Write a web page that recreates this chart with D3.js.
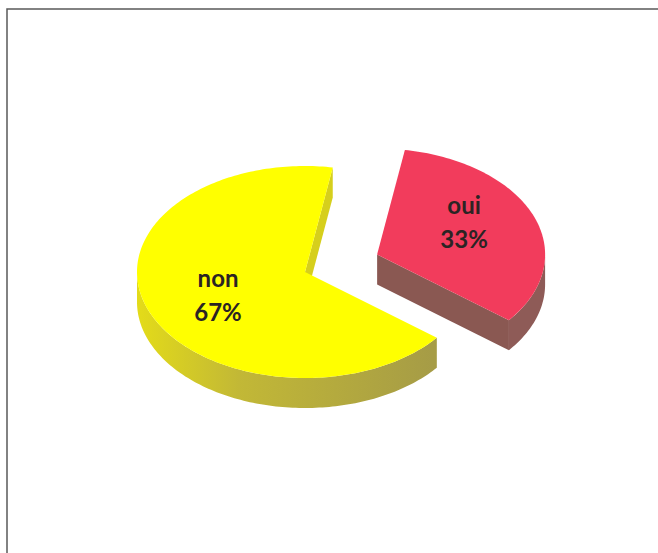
<!DOCTYPE html>
<html>
<head>
<meta charset="utf-8">
<script src="https://cdn.jsdelivr.net/npm/d3@7"></script>
<style>
  body { margin: 0; background: #fff; }
  svg { display: block; }
</style>
</head>
<body>
<svg id="chart" width="658" height="553"></svg>
<script>
// data
const categories = ['oui', 'non']
const values = [33, 67]
const explode = [0.46, 0]

const topColors = ['#f23c5c', '#ffff00']
const sideColors = ['#8e5b57', 'url(#yellowSide)']
const cutColors = ['#8a5852', '#d6cf1c']

const W = 658
const H = 553
const cx = 305
const cy = 272
const rx = 168
const ry = 106
const depth = 30

const svg = d3.select('#chart')

// frame (scanned page border)
svg.append('path')
  .attr('d', `M7,${H} L7,9 L${W},9`)
  .attr('fill', 'none')
  .attr('stroke', '#5a5a5a')
  .attr('stroke-width', 1.5)

const defs = svg.append('defs')
const grad = defs.append('linearGradient')
  .attr('id', 'yellowSide')
  .attr('gradientUnits', 'userSpaceOnUse')
  .attr('x1', 135).attr('y1', 0).attr('x2', 432).attr('y2', 0)
grad.append('stop').attr('offset', '0%').attr('stop-color', '#e4dc18')
grad.append('stop').attr('offset', '35%').attr('stop-color', '#c2b836')
grad.append('stop').attr('offset', '100%').attr('stop-color', '#a69c46')

const total = d3.sum(values)
const pct = d3.format('.0%')

const start = 0.166
const pie = d3.pie()
  .sort(null)
  .value((d) => d.value)
  .startAngle(start)
  .endAngle(start + 2 * Math.PI)

const slices = pie(categories.map((c, i) => ({ name: c, value: values[i], i })))
  .map((s) => {
    const mid = (s.startAngle + s.endAngle) / 2
    const e = explode[s.data.i]
    s.dx = e * rx * Math.sin(mid)
    s.dy = -e * ry * Math.cos(mid)
    s.mid = mid
    return s
  })

const pt = (s, a, z = 0) => [cx + s.dx + rx * Math.sin(a), cy + s.dy - ry * Math.cos(a) + z]
const arcPts = (s, a0, a1, z = 0) => {
  const n = Math.max(2, Math.ceil(Math.abs(a1 - a0) / 0.02))
  return d3.range(n + 1).map((k) => pt(s, a0 + (a1 - a0) * k / n, z))
}
const line = d3.line()

const topPath = (s) => {
  const c = [cx + s.dx, cy + s.dy]
  return line([c, ...arcPts(s, s.startAngle, s.endAngle)]) + 'Z'
}

const cutPath = (s, a) => {
  const c = [cx + s.dx, cy + s.dy]
  const p = pt(s, a)
  return line([c, p, [p[0], p[1] + depth], [c[0], c[1] + depth]]) + 'Z'
}

const wallPaths = (s) => {
  const out = []
  ;[[Math.PI / 2, 1.5 * Math.PI], [2.5 * Math.PI, 3.5 * Math.PI]].forEach(([f0, f1]) => {
    const lo = Math.max(s.startAngle, f0)
    const hi = Math.min(s.endAngle, f1)
    if (hi > lo) {
      out.push(line([...arcPts(s, lo, hi), ...arcPts(s, hi, lo, depth)]) + 'Z')
    }
  })
  return out
}

// back slices first
const order = slices.slice().sort((a, b) => a.dy - b.dy)

order.forEach((s) => {
  const i = s.data.i
  const g = svg.append('g').attr('class', 'slice slice-' + s.data.name)

  if (Math.sin(s.startAngle) < 0) {
    g.append('path').attr('d', cutPath(s, s.startAngle)).attr('fill', cutColors[i])
  }
  if (Math.sin(s.endAngle) > 0) {
    g.append('path').attr('d', cutPath(s, s.endAngle)).attr('fill', cutColors[i])
  }
  wallPaths(s).forEach((d) => {
    g.append('path').attr('d', d).attr('fill', sideColors[i])
  })
  g.append('path')
    .attr('d', topPath(s))
    .attr('fill', topColors[i])
})

// labels
const labelR = 0.58
const labelTurn = -0.1
slices.forEach((s) => {
  const a = s.mid + labelTurn
  const lx = cx + s.dx + labelR * rx * Math.sin(a)
  const ly = cy + s.dy - labelR * ry * Math.cos(a)
  const t = svg.append('text')
    .attr('text-anchor', 'middle')
    .attr('font-family', 'Lato, "Open Sans", sans-serif')
    .attr('font-weight', 'bold')
    .attr('font-size', 24)
    .attr('fill', '#2b2424')
  t.append('tspan').attr('x', lx).attr('y', ly - 13).text(s.data.name)
  t.append('tspan').attr('x', lx).attr('y', ly + 21).text(pct(s.data.value / total))
})
</script>
</body>
</html>
